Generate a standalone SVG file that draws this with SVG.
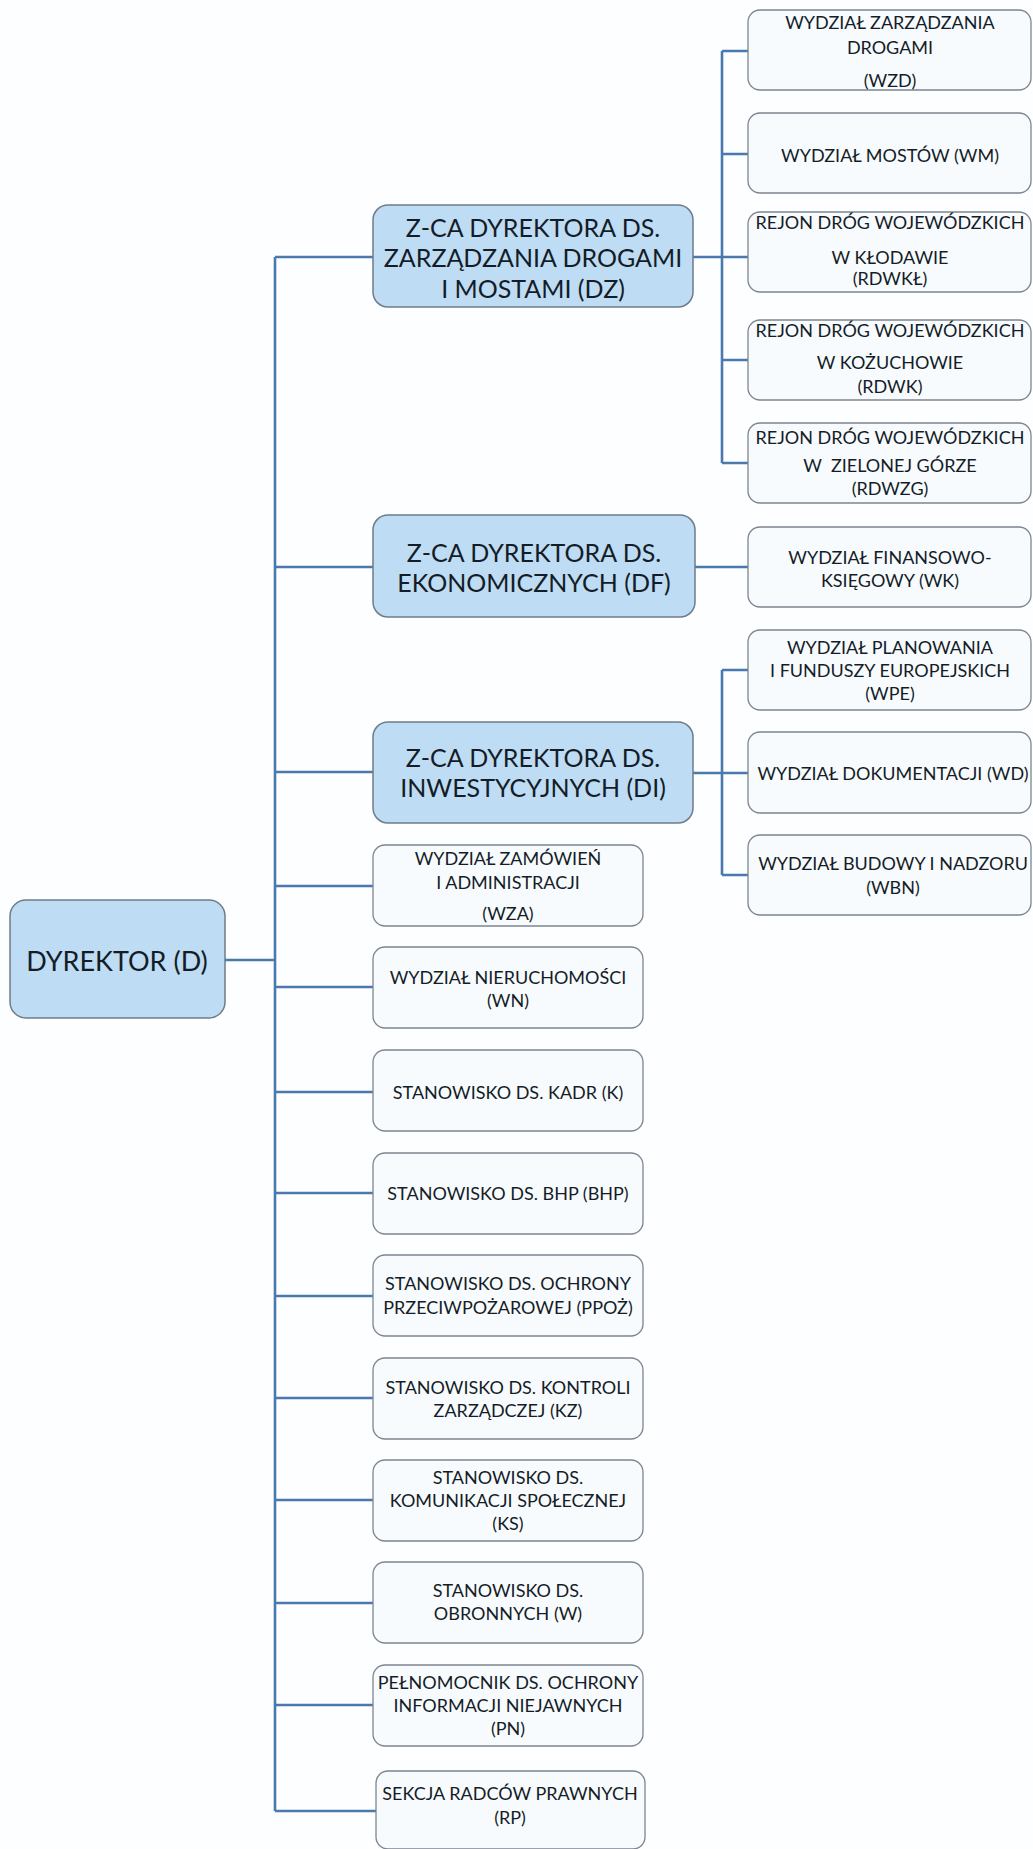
<svg xmlns="http://www.w3.org/2000/svg" width="1033" height="1849" viewBox="0 0 1033 1849">
<style>
.bg{fill:#fdfeff}
.main{fill:#bedcf4;stroke:#6f7c89;stroke-width:1.5}
.sub{fill:#f8fbfe;stroke:#7c8590;stroke-width:1.3}
.ln{stroke:#4a79ae;stroke-width:2.6;fill:none}
text{font-family:Lato,"Open Sans","Liberation Sans",sans-serif;fill:#141d27;text-anchor:middle;dominant-baseline:central}
.t{font-size:18px}
.T{font-size:25px}
.D{font-size:27px}
</style>
<rect class="bg" width="1033" height="1849"/>
<g id="connectors">
<path class="ln" d="M225 960H275M275 257V1811M275 257H373M275 567H373M275 772H373M275 886H373M275 987H373M275 1092H373M275 1193H373M275 1296H373M275 1398H373M275 1500H373M275 1603H373M275 1705H373M275 1811H376"/>
<path class="ln" d="M693 257H722M722 51V463M722 51H748M722 154H748M722 257H748M722 360H748M722 463H748"/>
<path class="ln" d="M695 567H748"/>
<path class="ln" d="M693 773H722M722 670V875M722 670H748M722 773H748M722 875H748"/>
</g>
<g id="D"><rect class="main" x="10" y="900" width="215" height="118" rx="16"/><text class="D" x="117" y="960">DYREKTOR (D)</text></g>
<g id="DZ"><rect class="main" x="373" y="205" width="320" height="102" rx="15"/><text class="T" x="533" y="227">Z-CA DYREKTORA DS.</text><text class="T" x="533" y="257">ZARZĄDZANIA DROGAMI</text><text class="T" x="533" y="288">I MOSTAMI (DZ)</text></g>
<g id="DF"><rect class="main" x="373" y="515" width="322" height="102" rx="15"/><text class="T" x="534" y="552">Z-CA DYREKTORA DS.</text><text class="T" x="534" y="582">EKONOMICZNYCH (DF)</text></g>
<g id="DI"><rect class="main" x="373" y="722" width="320" height="101" rx="15"/><text class="T" x="533" y="757">Z-CA DYREKTORA DS.</text><text class="T" x="533" y="787">INWESTYCYJNYCH (DI)</text></g>
<g id="WZD"><rect class="sub" x="748" y="10" width="283" height="80" rx="12"/><text class="t" x="890" y="22">WYDZIAŁ ZARZĄDZANIA</text><text class="t" x="890" y="47">DROGAMI</text><text class="t" x="890" y="80">(WZD)</text></g>
<g id="WM"><rect class="sub" x="748" y="113" width="283" height="80" rx="12"/><text class="t" x="890" y="155">WYDZIAŁ MOSTÓW (WM)</text></g>
<g id="RDWKL"><rect class="sub" x="748" y="212" width="283" height="80" rx="12"/><text class="t" x="890" y="222">REJON DRÓG WOJEWÓDZKICH</text><text class="t" x="890" y="257">W KŁODAWIE</text><text class="t" x="890" y="278">(RDWKŁ)</text></g>
<g id="RDWK"><rect class="sub" x="748" y="320" width="283" height="80" rx="12"/><text class="t" x="890" y="330">REJON DRÓG WOJEWÓDZKICH</text><text class="t" x="890" y="362">W KOŻUCHOWIE</text><text class="t" x="890" y="386">(RDWK)</text></g>
<g id="RDWZG"><rect class="sub" x="748" y="423" width="283" height="80" rx="12"/><text class="t" x="890" y="437">REJON DRÓG WOJEWÓDZKICH</text><text class="t" x="890" y="465" xml:space="preserve">W  ZIELONEJ GÓRZE</text><text class="t" x="890" y="488">(RDWZG)</text></g>
<g id="WK"><rect class="sub" x="748" y="527" width="283" height="80" rx="12"/><text class="t" x="890" y="557">WYDZIAŁ FINANSOWO-</text><text class="t" x="890" y="580">KSIĘGOWY (WK)</text></g>
<g id="WPE"><rect class="sub" x="748" y="630" width="283" height="80" rx="12"/><text class="t" x="890" y="647">WYDZIAŁ PLANOWANIA</text><text class="t" x="890" y="670">I FUNDUSZY EUROPEJSKICH</text><text class="t" x="890" y="693">(WPE)</text></g>
<g id="WD"><rect class="sub" x="748" y="732" width="283" height="81" rx="12"/><text class="t" x="893" y="773">WYDZIAŁ DOKUMENTACJI (WD)</text></g>
<g id="WBN"><rect class="sub" x="748" y="835" width="283" height="80" rx="12"/><text class="t" x="893" y="863">WYDZIAŁ BUDOWY I NADZORU</text><text class="t" x="893" y="887">(WBN)</text></g>
<g id="WZA"><rect class="sub" x="373" y="845" width="270" height="81" rx="12"/><text class="t" x="508" y="858">WYDZIAŁ ZAMÓWIEŃ</text><text class="t" x="508" y="882">I ADMINISTRACJI</text><text class="t" x="508" y="913">(WZA)</text></g>
<g id="WN"><rect class="sub" x="373" y="947" width="270" height="81" rx="12"/><text class="t" x="508" y="977">WYDZIAŁ NIERUCHOMOŚCI</text><text class="t" x="508" y="1000">(WN)</text></g>
<g id="K"><rect class="sub" x="373" y="1050" width="270" height="81" rx="12"/><text class="t" x="508" y="1092">STANOWISKO DS. KADR (K)</text></g>
<g id="BHP"><rect class="sub" x="373" y="1153" width="270" height="81" rx="12"/><text class="t" x="508" y="1193">STANOWISKO DS. BHP (BHP)</text></g>
<g id="PPOZ"><rect class="sub" x="373" y="1255" width="270" height="81" rx="12"/><text class="t" x="508" y="1283">STANOWISKO DS. OCHRONY</text><text class="t" x="508" y="1307">PRZECIWPOŻAROWEJ (PPOŻ)</text></g>
<g id="KZ"><rect class="sub" x="373" y="1358" width="270" height="81" rx="12"/><text class="t" x="508" y="1387">STANOWISKO DS. KONTROLI</text><text class="t" x="508" y="1410">ZARZĄDCZEJ (KZ)</text></g>
<g id="KS"><rect class="sub" x="373" y="1460" width="270" height="81" rx="12"/><text class="t" x="508" y="1477">STANOWISKO DS.</text><text class="t" x="508" y="1500">KOMUNIKACJI SPOŁECZNEJ</text><text class="t" x="508" y="1523">(KS)</text></g>
<g id="W"><rect class="sub" x="373" y="1562" width="270" height="81" rx="12"/><text class="t" x="508" y="1590">STANOWISKO DS.</text><text class="t" x="508" y="1613">OBRONNYCH (W)</text></g>
<g id="PN"><rect class="sub" x="373" y="1665" width="270" height="81" rx="12"/><text class="t" x="508" y="1682">PEŁNOMOCNIK DS. OCHRONY</text><text class="t" x="508" y="1705">INFORMACJI NIEJAWNYCH</text><text class="t" x="508" y="1728">(PN)</text></g>
<g id="RP"><rect class="sub" x="376" y="1771" width="269" height="78" rx="12"/><text class="t" x="510" y="1793">SEKCJA RADCÓW PRAWNYCH</text><text class="t" x="510" y="1817">(RP)</text></g>
</svg>
